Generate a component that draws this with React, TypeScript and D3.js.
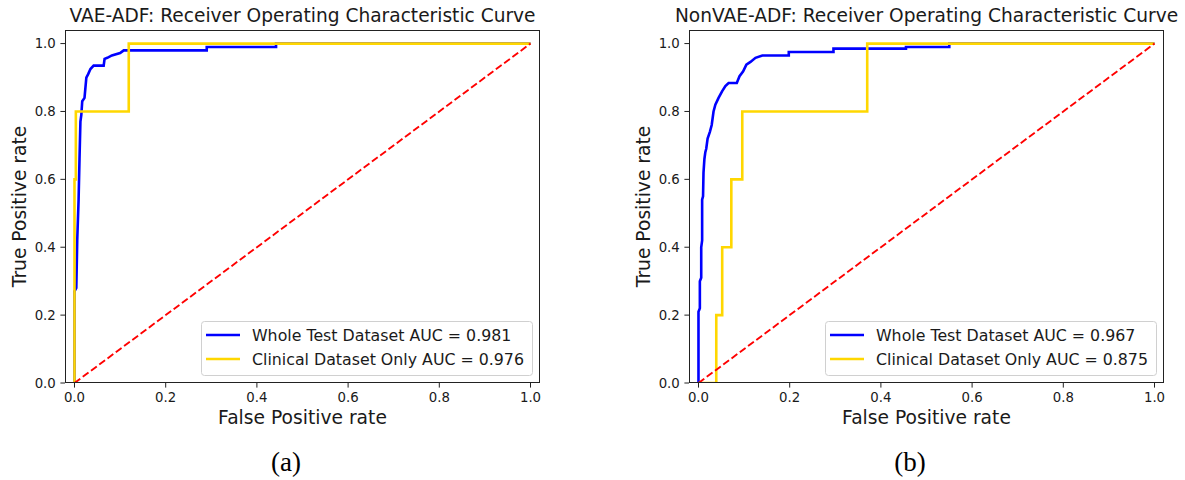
import React from "react";
import * as d3 from "d3";

// ---------- data ----------
const panelTitles = [
  "VAE-ADF: Receiver Operating Characteristic Curve",
  "NonVAE-ADF: Receiver Operating Characteristic Curve",
];
const panelLetters = ["(a)", "(b)"];
const seriesNames = ["Whole Test Dataset", "Clinical Dataset Only"];
const aucValues = [
  [0.981, 0.976],
  [0.967, 0.875],
];
const tickValues = [0, 0.2, 0.4, 0.6, 0.8, 1.0];

// panel (a) whole test dataset ROC points [fpr, tpr]
const vaeWhole: [number, number][] = [
  [0, 0], [0, 0.27], [0.004, 0.28], [0.006, 0.42], [0.009, 0.54], [0.011, 0.66],
  [0.013, 0.77], [0.015, 0.79], [0.017, 0.83], [0.022, 0.84], [0.024, 0.87],
  [0.026, 0.9], [0.03, 0.91], [0.035, 0.925], [0.042, 0.935], [0.064, 0.935],
  [0.066, 0.955], [0.072, 0.958], [0.082, 0.965], [0.1, 0.972], [0.108, 0.98],
  [0.29, 0.98], [0.29, 0.99], [0.442, 0.99], [0.442, 1.0], [1, 1],
];
// panel (a) clinical dataset only
const vaeClinical: [number, number][] = [
  [0, 0], [0, 0.6], [0.003, 0.6], [0.003, 0.8], [0.119, 0.8], [0.119, 1.0], [1, 1],
];
// panel (b) whole test dataset
const nonVaeWhole: [number, number][] = [
  [0, 0], [0, 0.21], [0.003, 0.22], [0.003, 0.3], [0.006, 0.31], [0.006, 0.4],
  [0.008, 0.42], [0.008, 0.54], [0.01, 0.55], [0.011, 0.62], [0.013, 0.66],
  [0.015, 0.68], [0.017, 0.69], [0.02, 0.72], [0.025, 0.74], [0.029, 0.76],
  [0.033, 0.8], [0.037, 0.82], [0.044, 0.84], [0.052, 0.86], [0.059, 0.875],
  [0.066, 0.884], [0.084, 0.884], [0.09, 0.904], [0.098, 0.918], [0.105, 0.938],
  [0.114, 0.946], [0.125, 0.958], [0.14, 0.965], [0.198, 0.965], [0.198, 0.975],
  [0.296, 0.975], [0.296, 0.985], [0.455, 0.985], [0.455, 0.99], [0.55, 0.99],
  [0.55, 1.0], [1, 1],
];
// panel (b) clinical dataset only
const nonVaeClinical: [number, number][] = [
  [0, 0], [0.039, 0], [0.039, 0.2], [0.052, 0.2], [0.052, 0.4], [0.072, 0.4],
  [0.072, 0.6], [0.096, 0.6], [0.096, 0.8], [0.37, 0.8], [0.37, 1.0], [1, 1],
];
const chanceLine: [number, number][] = [[0, 0], [1, 1]];

const panelSeries = [
  [vaeWhole, vaeClinical],
  [nonVaeWhole, nonVaeClinical],
];
const seriesColors = ["#0000ff", "#ffd700"];

// ---------- layout ----------
const W = 1185;
const H = 480;
const frameLefts = [65, 689];
const frameWidth = 475;
const frameTop = 30;
const frameBottom = 383;
const FONT = "'DejaVu Sans', sans-serif";
const TXT = "#1a1a1a";

function Panel({ idx }: { idx: number }) {
  const x0 = frameLefts[idx];
  const x1 = x0 + frameWidth;
  const margin = 0.0208;
  const x = d3.scaleLinear().domain([-margin, 1 + margin]).range([x0, x1]);
  const y = d3.scaleLinear().domain([0, 1.04]).range([frameBottom, frameTop]);
  const line = d3
    .line<[number, number]>()
    .x((d) => x(d[0]))
    .y((d) => y(d[1]));
  const clipId = `clip-${idx}`;
  const cx = (x0 + x1) / 2;
  const legRight = x1 - 8;
  const legLeft = legRight - 331;
  const legTop = 321;
  const legH = 54;
  const rows = [335, 359];

  return (
    <g>
      <defs>
        <clipPath id={clipId}>
          <rect x={x0} y={frameTop} width={frameWidth} height={frameBottom - frameTop} />
        </clipPath>
      </defs>
      <text x={cx} y={22} textAnchor="middle" fontFamily={FONT} fontSize={18.6} fill={TXT}>
        {panelTitles[idx]}
      </text>
      <g clipPath={`url(#${clipId})`}>
        {panelSeries[idx].map((s, i) => (
          <path
            key={i}
            d={line(s) || ""}
            fill="none"
            stroke={seriesColors[i]}
            strokeWidth={2.6}
            strokeLinejoin="miter"
            strokeLinecap="butt"
          />
        ))}
        <path
          d={line(chanceLine) || ""}
          fill="none"
          stroke="#ff0000"
          strokeWidth={1.9}
          strokeDasharray="7.2,3.1"
        />
      </g>
      <rect
        x={x0 + 0.5}
        y={frameTop + 0.5}
        width={frameWidth - 1}
        height={frameBottom - frameTop - 1}
        fill="none"
        stroke="#222"
        strokeWidth={1}
      />
      {tickValues.map((t) => (
        <g key={`x${t}`}>
          <line x1={x(t)} x2={x(t)} y1={frameBottom} y2={frameBottom + 4.6} stroke="#222" strokeWidth={1} />
          <text x={x(t)} y={402} textAnchor="middle" fontFamily={FONT} fontSize={13.3} fill={TXT}>
            {t.toFixed(1)}
          </text>
        </g>
      ))}
      {tickValues.map((t) => (
        <g key={`y${t}`}>
          <line x1={x0 - 4.6} x2={x0} y1={y(t)} y2={y(t)} stroke="#222" strokeWidth={1} />
          <text
            x={x0 - 9.2}
            y={y(t)}
            dy="0.36em"
            textAnchor="end"
            fontFamily={FONT}
            fontSize={13.3}
            fill={TXT}
          >
            {t.toFixed(1)}
          </text>
        </g>
      ))}
      <text x={cx} y={424} textAnchor="middle" fontFamily={FONT} fontSize={18.7} fill={TXT}>
        False Positive rate
      </text>
      <text
        transform={`translate(${x0 - 39},${(frameTop + frameBottom) / 2}) rotate(-90)`}
        textAnchor="middle"
        fontFamily={FONT}
        fontSize={18.7}
        fill={TXT}
      >
        True Positive rate
      </text>
      <rect
        x={legLeft + 0.5}
        y={legTop + 0.5}
        width={legRight - legLeft}
        height={legH}
        rx={3}
        fill="#ffffff"
        fillOpacity={0.8}
        stroke="#d0d0d0"
        strokeWidth={1}
      />
      {seriesNames.map((n, i) => (
        <g key={n}>
          <line
            x1={legLeft + 5}
            x2={legLeft + 39}
            y1={rows[i]}
            y2={rows[i]}
            stroke={seriesColors[i]}
            strokeWidth={2.6}
          />
          <text
            x={legLeft + 51}
            y={rows[i]}
            dy="0.36em"
            fontFamily={FONT}
            fontSize={15.8}
            fill={TXT}
          >
            {`${n} AUC = ${aucValues[idx][i].toFixed(3)}`}
          </text>
        </g>
      ))}
      <text
        x={idx === 0 ? 286 : 910}
        y={471}
        textAnchor="middle"
        fontFamily="'Liberation Serif', 'Times New Roman', serif"
        fontSize={27}
        fill="#000"
      >
        {panelLetters[idx]}
      </text>
    </g>
  );
}

export default function App() {
  return (
    <svg
      width={W}
      height={H}
      viewBox={`0 0 ${W} ${H}`}
      style={{ position: "absolute", left: 0, top: 0, background: "#fff" }}
    >
      <rect x={0} y={0} width={W} height={H} fill="#fff" />
      <Panel idx={0} />
      <Panel idx={1} />
    </svg>
  );
}
